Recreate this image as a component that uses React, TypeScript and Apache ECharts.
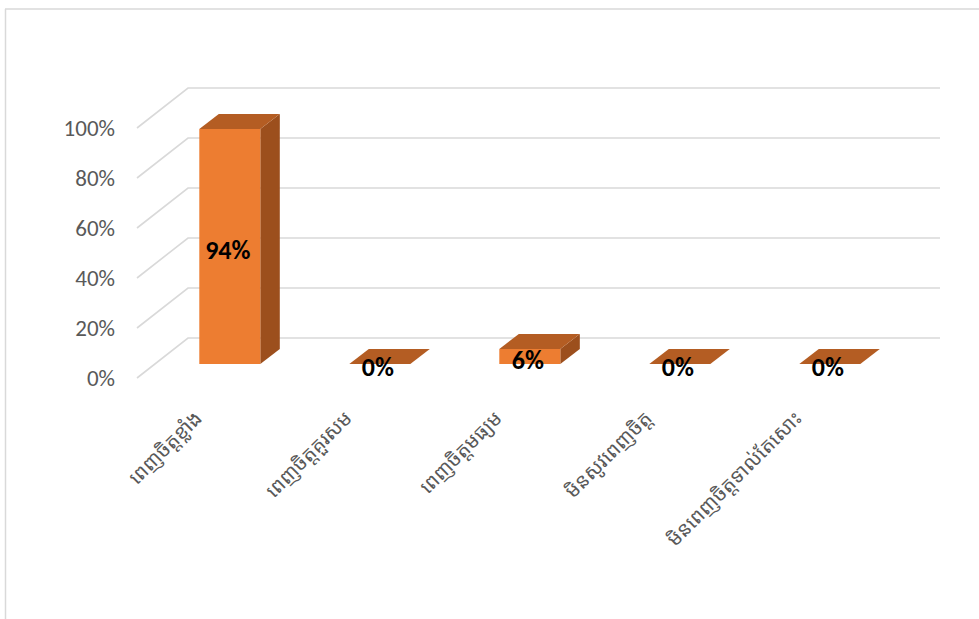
import React, { useEffect, useRef } from "react";
import * as echarts from "echarts";

const categories = [
  "ពេញចិត្តខ្លាំង",
  "ពេញចិត្តគួរសម",
  "ពេញចិត្តមធ្យម",
  "មិនសូវពេញចិត្ត",
  "មិនពេញចិត្តទាល់តែសោះ",
];
const values = [94, 0, 6, 0, 0];
const yTicks = [0, 20, 40, 60, 80, 100];

const KHMER_FONT = "'Khmer OS', 'Noto Sans Khmer', 'Noto Serif Khmer', 'Noto Sans', sans-serif";
const NUM_FONT = "Carlito, Calibri, 'Liberation Sans', Arial, sans-serif";

export default function App() {
  const ref = useRef<HTMLDivElement>(null);

  useEffect(() => {
    if (!ref.current) return;
    const chart = echarts.init(ref.current, null, { renderer: "svg" });

    const wallDx = 51;
    const wallDy = -40;
    const wallExtra = 53;
    const barFx = 17.8;
    const barFy = -14;
    const barW = 61;
    const barDx = 19.5;
    const barDy = -15;

    const option: any = {
      animation: false,
      backgroundColor: "#ffffff",
      grid: { left: 137, width: 750, top: 128, height: 250, containLabel: false },
      xAxis: {
        type: "category",
        data: categories,
        axisLine: { show: false },
        axisTick: { show: false },
        splitLine: { show: false },
        axisLabel: {
          interval: 0,
          rotate: 45,
          margin: 22,
          padding: [0, 20, 0, 0],
          color: "#595959",
          fontSize: 20,
          fontFamily: KHMER_FONT,
        },
      },
      yAxis: {
        type: "value",
        min: 0,
        max: 100,
        interval: 20,
        axisLine: { show: false },
        axisTick: { show: false },
        splitLine: { show: false },
        axisLabel: {
          formatter: "{value}%",
          color: "#595959",
          fontSize: 23,
          margin: 22,
          fontFamily: NUM_FONT,
        },
      },
      graphic: [
        {
          type: "line",
          shape: { x1: 5.5, y1: 9, x2: 5.5, y2: 619 },
          style: { stroke: "#d9d9d9", lineWidth: 1.5 },
          silent: true,
        },
        {
          type: "line",
          shape: { x1: 5, y1: 9, x2: 979, y2: 9 },
          style: { stroke: "#d9d9d9", lineWidth: 1.5 },
          silent: true,
        },
      ],
      series: [
        {
          type: "custom",
          name: "gridlines",
          z: 1,
          silent: true,
          data: yTicks.map((t) => [0, t]),
          renderItem: (params: any, api: any) => {
            const cs = params.coordSys;
            const y = api.coord([0, api.value(1)])[1];
            const x0 = cs.x;
            return {
              type: "polyline",
              shape: {
                points: [
                  [x0, y],
                  [x0 + wallDx, y + wallDy],
                  [x0 + cs.width + wallExtra, y + wallDy],
                ],
              },
              style: { stroke: "#d9d9d9", lineWidth: 1.6, fill: null },
            };
          },
        },
        {
          type: "custom",
          name: "bars",
          z: 2,
          data: values.map((v, i) => [i, v]),
          renderItem: (params: any, api: any) => {
            const i = api.value(0);
            const v = api.value(1);
            const p0 = api.coord([i, 0]);
            const p1 = api.coord([i, v]);
            const cx = p0[0] + barFx;
            const xl = cx - barW / 2;
            const xr = cx + barW / 2;
            const yb = p0[1] + barFy;
            const yt = p1[1] + barFy;
            return {
              type: "group",
              children: [
                {
                  type: "polygon",
                  shape: {
                    points: [
                      [xr, yb],
                      [xr + barDx, yb + barDy],
                      [xr + barDx, yt + barDy],
                      [xr, yt],
                    ],
                  },
                  style: { fill: "#9C4F1D" },
                },
                {
                  type: "polygon",
                  shape: {
                    points: [
                      [xl, yt],
                      [xl + barDx, yt + barDy],
                      [xr + barDx, yt + barDy],
                      [xr, yt],
                    ],
                  },
                  style: { fill: "#B45D23" },
                },
                {
                  type: "rect",
                  shape: { x: xl, y: yt, width: barW, height: Math.max(0, yb - yt) },
                  style: { fill: "#ED7D31" },
                },
                {
                  type: "text",
                  z2: 10,
                  style: {
                    text: v + "%",
                    x: cx - 2,
                    y: (yt + yb) / 2 + 3,
                    align: "center",
                    verticalAlign: "middle",
                    fill: "#000000",
                    fontSize: 26,
                    fontWeight: "bold",
                    fontFamily: NUM_FONT,
                  },
                },
              ],
            };
          },
        },
      ],
    };

    chart.setOption(option);
    return () => {
      chart.dispose();
    };
  }, []);

  return (
    <div
      ref={ref}
      style={{ position: "absolute", left: 0, top: 0, width: 979, height: 619 }}
    />
  );
}
